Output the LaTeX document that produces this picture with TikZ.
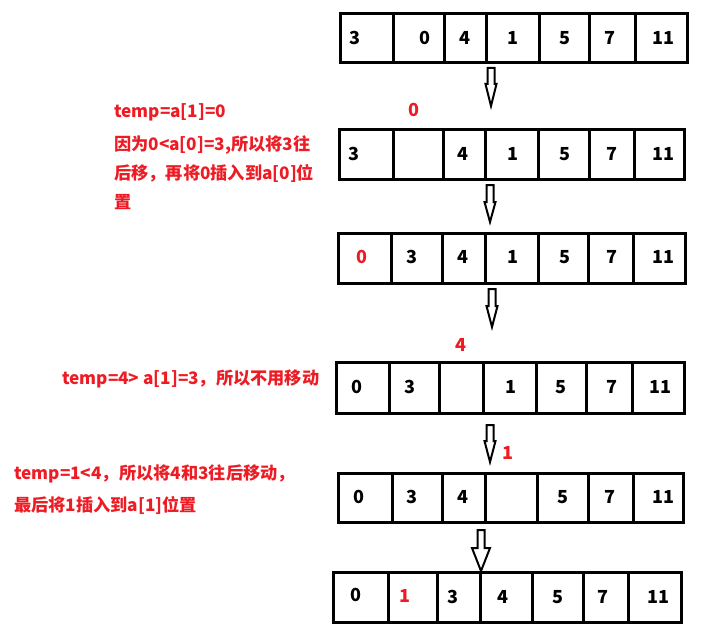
\documentclass[tikz,border=0pt]{standalone}
\usepackage{fontspec}
\setmainfont{Noto Sans CJK SC}
\usepackage{xcolor}
\definecolor{notered}{RGB}{237,28,36}

\tikzset{
  cellbox/.style={draw=black, line width=3pt},
  num/.style={font=\fontsize{18}{18}\selectfont\bfseries, text=black, inner sep=0pt},
  rednum/.style={num, text=notered},
  note/.style={font=\fontsize{17.2}{17}\selectfont\bfseries, text=notered, inner sep=0pt, anchor=west, align=left},
  hollow/.style={draw=black, line width=2pt, fill=white, line join=miter}
}
% x, shaft top, head start, tip, head half width
\newcommand{\hollowarrow}[5]{%
  \draw[hollow] (#1-3.5,#2) -- (#1-3.5,#3) -- (#1-#5,#3) -- (#1,#4) -- (#1+#5,#3) -- (#1+3.5,#3) -- (#1+3.5,#2) -- cycle;}

\begin{document}
\begin{tikzpicture}[x=1pt, y=-1pt]
\useasboundingbox (0,0) rectangle (722,631);

% row 1
\draw[cellbox] (340,14) rectangle (687,63);
\foreach \x in {393,444,486,539,589,635} \draw[cellbox] (\x,14) -- (\x,63);
\foreach \x/\v [count=\i] in {355/3,425/0,465/4,513/1,565/5,610/7,663/11}
  \node[num] (r1n\i) at (\x,38) {\v};
\hollowarrow{491}{68}{84}{106}{5.5}

% row 2
\node[rednum] (t1) at (414,110) {0};
\draw[cellbox] (339,130) rectangle (684,180);
\foreach \x in {393,443,485,538,589,634} \draw[cellbox] (\x,130) -- (\x,180);
\foreach \x/\v [count=\i] in {354/3,463/4,513/1,565/5,612/7,663/11}
  \node[num] (r2n\i) at (\x,154) {\v};
\hollowarrow{490}{185}{202}{222}{5.5}

% row 3
\draw[cellbox] (338,233) rectangle (685,283);
\foreach \x in {391,442,485,538,588,633} \draw[cellbox] (\x,233) -- (\x,283);
\node[rednum] (r3n1) at (362,257) {0};
\foreach \x/\v [count=\i from 2] in {412/3,463/4,513/1,565/5,612/7,663/11}
  \node[num] (r3n\i) at (\x,257) {\v};
\hollowarrow{492}{289}{306}{327}{5.5}

% row 4
\node[rednum] (t2) at (461,345) {4};
\draw[cellbox] (336,362) rectangle (684,413);
\foreach \x in {389,439,483,536,586,632} \draw[cellbox] (\x,362) -- (\x,413);
\foreach \x/\v [count=\i] in {357/0,410/3,511/1,561/5,612/7,660/11}
  \node[num] (r4n\i) at (\x,387) {\v};
\hollowarrow{490}{425}{441}{462}{5.5}
\node[rednum] (t3) at (508,453) {1};

% row 5
\draw[cellbox] (338,473) rectangle (683,522);
\foreach \x in {392,442,485,537,588,633} \draw[cellbox] (\x,473) -- (\x,522);
\foreach \x/\v [count=\i] in {359/0,412/3,463/4,563/5,610/7,663/11}
  \node[num] (r5n\i) at (\x,497) {\v};
\hollowarrow{481}{530}{548}{571}{9}

% row 6
\draw[cellbox] (333,572) rectangle (681,622);
\foreach \x in {388,437,480,532,583,628} \draw[cellbox] (\x,572) -- (\x,622);
\node[num] (r6n1) at (356,595) {0};
\node[rednum] (r6n2) at (405,596) {1};
\foreach \x/\v [count=\i from 3] in {453/3,503/4,558/5,603/7,658/11}
  \node[num] (r6n\i) at (\x,597) {\v};

% notes
\node[note] (n1) at (114,112) {temp=a[1]=0};
\node[note, font=\fontsize{17.2}{29}\selectfont\bfseries, anchor=north west] (n2) at (114,136)
  {因为0<a[0]=3,所以将3往\\后移，再将0插入到a[0]位\\置};
\node[note] (n3) at (62,379) {temp=4> a[1]=3，所以不用移动};
\node[note, font=\fontsize{17.2}{32}\selectfont\bfseries, anchor=north west] (n4) at (14,465)
  {temp=1<4，所以将4和3往后移动，\\最后将1插入到a[1]位置};
\end{tikzpicture}
\end{document}
